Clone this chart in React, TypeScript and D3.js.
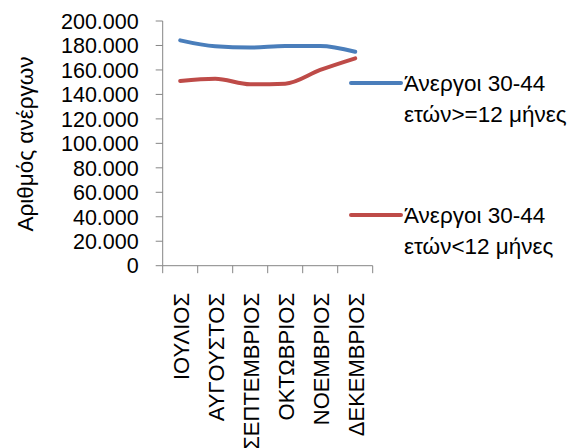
import React from "react";
import * as d3 from "d3";

const categories = ["ΙΟΥΛΙΟΣ", "ΑΥΓΟΥΣΤΟΣ", "ΣΕΠΤΕΜΒΡΙΟΣ", "ΟΚΤΩΒΡΙΟΣ", "ΝΟΕΜΒΡΙΟΣ", "ΔΕΚΕΜΒΡΙΟΣ"];
const seriesLong = [184200, 179300, 178300, 179600, 179600, 174900];
const seriesShort = [151000, 152800, 148300, 148800, 160000, 169500];
const seriesNames = [
  ["Άνεργοι 30-44", "ετών>=12 μήνες"],
  ["Άνεργοι 30-44", "ετών<12 μήνες"],
];
const yTicks = [0, 20000, 40000, 60000, 80000, 100000, 120000, 140000, 160000, 180000, 200000];
const yTitle = "Αριθμός ανέργων";

const W = 576;
const H = 448;
const left = 162.7;
const right = 372.7;
const top = 21;
const bottom = 265.7;
const font = "'Liberation Sans', Arial, sans-serif";
const axisColor = "#868686";
const colors = ["#4a7ebb", "#be4b48"];

const fmt = (v: number) => (v === 0 ? "0" : d3.format(",")(v).replace(/,/g, "."));

export default function App() {
  const x = d3.scaleBand<string>().domain(categories).range([left, right]).padding(0);
  const y = d3.scaleLinear().domain([0, 200000]).range([bottom, top]);
  const line = d3
    .line<number>()
    .x((_, i) => (x(categories[i]) as number) + x.bandwidth() / 2)
    .y((d) => y(d))
    .curve(d3.curveMonotoneX);
  const series = [seriesLong, seriesShort];
  const boundaries = [...categories.map((c) => x(c) as number), right];
  const legendY = [83, 215];

  return (
    <svg
      width={W}
      height={H}
      style={{ position: "absolute", left: 0, top: 0, background: "#fff" }}
    >
      <rect x={0} y={0} width={W} height={H} fill="#fff" />
      {/* y axis */}
      <line x1={left} x2={left} y1={top} y2={bottom} stroke={axisColor} strokeWidth={1} />
      {yTicks.map((t) => (
        <g key={t}>
          <line x1={left - 7} x2={left} y1={y(t)} y2={y(t)} stroke={axisColor} />
          <text
            x={left - 24}
            y={y(t)}
            dy="0.36em"
            textAnchor="end"
            fontFamily={font}
            fontSize={21.5}
            fill="#000"
          >
            {fmt(t)}
          </text>
        </g>
      ))}
      <text
        transform={`translate(33,${144}) rotate(-90)`}
        textAnchor="middle"
        fontFamily={font}
        fontSize={22.5}
        fill="#000"
      >
        {yTitle}
      </text>
      {/* x axis */}
      <line x1={left} x2={right} y1={bottom} y2={bottom} stroke={axisColor} />
      {boundaries.map((b, i) => (
        <line key={i} x1={b} x2={b} y1={bottom} y2={bottom + 7.5} stroke={axisColor} />
      ))}
      {categories.map((c) => (
        <text
          key={c}
          transform={`translate(${(x(c) as number) + x.bandwidth() / 2 + 9},${293}) rotate(-90)`}
          textAnchor="end"
          fontFamily={font}
          fontSize={22}
          fill="#000"
        >
          {c}
        </text>
      ))}
      {/* lines */}
      {series.map((s, i) => (
        <path
          key={i}
          d={line(s) as string}
          fill="none"
          stroke={colors[i]}
          strokeWidth={4}
          strokeLinecap="round"
          strokeLinejoin="round"
        />
      ))}
      {/* legend */}
      {seriesNames.map((n, i) => (
        <g key={i}>
          <line
            x1={351}
            x2={401}
            y1={legendY[i]}
            y2={legendY[i]}
            stroke={colors[i]}
            strokeWidth={4}
            strokeLinecap="round"
          />
          <text x={404} y={legendY[i]} dy="0.36em" fontFamily={font} fontSize={22.5} fill="#000">
            {n[0]}
          </text>
          <text x={404} y={legendY[i] + 30.5} dy="0.36em" fontFamily={font} fontSize={22.5} fill="#000">
            {n[1]}
          </text>
        </g>
      ))}
    </svg>
  );
}
